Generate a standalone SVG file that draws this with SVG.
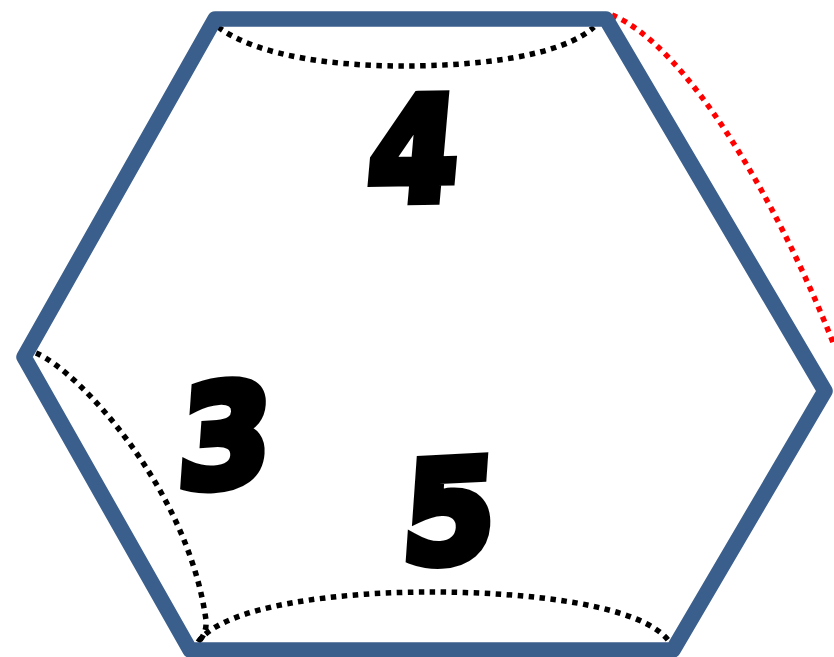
<svg xmlns="http://www.w3.org/2000/svg" width="834" height="657" viewBox="0 0 834 657">
<style>
.hex{fill:none;stroke:#3b5f8d;stroke-width:15.5;stroke-linejoin:round}
.dot{fill:none;stroke:#000;stroke-width:5.5;stroke-dasharray:5.5 5.5}
.red{stroke:#f00}
.num{font-family:"DejaVu Sans",sans-serif;font-weight:bold;font-size:140px;fill:#000;stroke:#000;stroke-width:10;stroke-linejoin:miter;stroke-miterlimit:3}
</style>
<rect width="834" height="657" fill="#fff"/>
<g id="connectors">
<path class="dot" d="M218 27C260 58 340 66 405 66C470 66 560 58 594 27"/>
<path class="dot" d="M36 353C80 372 188 490 206 620Q207 634 198 642"/>
<path class="dot" d="M198 642C225 605 340 592 430 592C530 592 640 605 668 640"/>
<path class="dot red" d="M612 15C685 45 775 195 834 345"/>
</g>
<g id="hexagon"><path class="hex" d="M215 19H606L825 391L673 650H190L24 357Z"/></g>
<g id="node-4"><text class="num" transform="translate(365 201) rotate(-1) skewX(-6) scale(.92 1.02)">4</text></g>
<g id="node-3"><text class="num" transform="translate(176 489) rotate(-4) skewX(-8) scale(.95 1)">3</text></g>
<g id="node-5"><text class="num" transform="translate(400 564) rotate(-3) skewX(-7) scale(.95 1)">5</text></g>
</svg>
